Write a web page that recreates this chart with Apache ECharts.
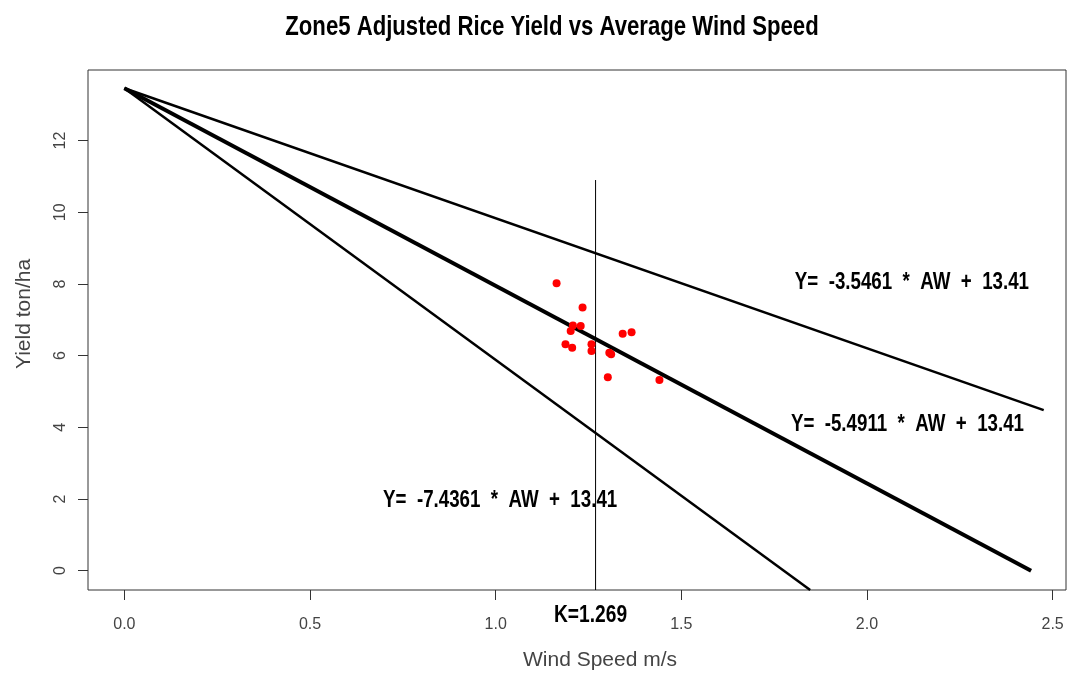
<!DOCTYPE html>
<html>
<head>
<meta charset="utf-8">
<script src="https://cdn.jsdelivr.net/npm/echarts@6/dist/echarts.min.js"></script>
<style>
html,body{margin:0;padding:0;background:#fff;}
#chart{width:1067px;height:673px;}
</style>
</head>
<body>
<div id="chart"></div>
<script>
// ---- data ----
const windSpeed = [1.164, 1.234, 1.208, 1.229, 1.202, 1.188, 1.206, 1.258, 1.258, 1.306, 1.311, 1.342, 1.366, 1.302, 1.441];
const riceYield = [8.02, 7.34, 6.84, 6.83, 6.69, 6.32, 6.22, 6.32, 6.13, 6.08, 6.04, 6.61, 6.65, 5.40, 5.32];
const lineHigh = [[0, 13.46], [2.476, 4.48]];   // Y = -3.5461*AW + 13.41
const lineMid  = [[0, 13.46], [2.442, 0.0]];    // Y = -5.4911*AW + 13.41
const lineLow  = [[0, 13.46], [1.847, -0.54]];  // Y = -7.4361*AW + 13.41
const kValue = 1.269;
const kLineTop = 10.9;
const xTicks = [0, 0.5, 1.0, 1.5, 2.0, 2.5];
const yTicks = [0, 2, 4, 6, 8, 10, 12];
const xRange = [-0.098, 2.536];
const yRange = [-0.54, 13.97];
const eqTexts = ['Y=  -3.5461  *  AW  +  13.41', 'Y=  -5.4911  *  AW  +  13.41', 'Y=  -7.4361  *  AW  +  13.41'];
const eqAnchors = [[2.121, 8.03], [2.109, 4.09], [1.012, 1.97]];
const titleText = 'Zone5 Adjusted Rice Yield vs Average Wind Speed';
const xTitle = 'Wind Speed m/s';
const yTitle = 'Yield ton/ha';

const sans = '"Liberation Sans", Arial, sans-serif';
const chart = echarts.init(document.getElementById('chart'), null, {renderer: 'canvas'});

const points = windSpeed.map((x, i) => [x, riceYield[i]]);

const option = {
  animation: false,
  backgroundColor: '#fff',
  grid: {left: 88, right: 1, top: 70, bottom: 83, show: true, borderColor: '#333', borderWidth: 1,
    backgroundColor: 'transparent', outerBoundsMode: 'none', containLabel: false},
  xAxis: {
    type: 'value', min: xRange[0], max: xRange[1],
    name: xTitle, nameLocation: 'middle', nameGap: 60,
    nameTextStyle: {fontFamily: sans, fontSize: 21, color: '#444', padding: [0, 0, 0, 46]},
    axisLine: {show: false, onZero: false},
    splitLine: {show: false},
    axisTick: {show: true, inside: false, length: 10, customValues: xTicks, lineStyle: {color: '#333'}},
    axisLabel: {show: true, customValues: xTicks, margin: 27, fontFamily: sans, fontSize: 16, color: '#444',
      formatter: v => v.toFixed(1)}
  },
  yAxis: {
    type: 'value', min: yRange[0], max: yRange[1],
    name: yTitle, nameLocation: 'middle', nameGap: 53, nameRotate: 90,
    nameTextStyle: {fontFamily: sans, fontSize: 21, color: '#444', padding: [0, 0, 0, 32]},
    axisLine: {show: false, onZero: false},
    splitLine: {show: false},
    axisTick: {show: true, inside: false, length: 10, customValues: yTicks, lineStyle: {color: '#333'}},
    axisLabel: {show: true, customValues: yTicks, rotate: 90, margin: 19, fontFamily: sans, fontSize: 16, color: '#444',
      formatter: v => String(v)}
  },
  series: [
    {type: 'line', data: lineHigh, symbol: 'none', lineStyle: {color: '#000', width: 2.5}, z: 2},
    {type: 'line', data: lineMid, symbol: 'none', lineStyle: {color: '#000', width: 4}, z: 2},
    {type: 'line', data: lineLow, symbol: 'none', lineStyle: {color: '#000', width: 2.5}, z: 2},
    {type: 'line', data: [[kValue, yRange[0]], [kValue, kLineTop]], symbol: 'none', lineStyle: {color: '#000', width: 1}, z: 3},
    {type: 'scatter', data: points, symbol: 'circle', symbolSize: 8, itemStyle: {color: '#ff0000', opacity: 1}, z: 4}
  ]
};
chart.setOption(option);

function boldText(text, x, y, size, sx) {
  return {
    type: 'text', x: x, y: y, scaleX: sx, scaleY: 1, z: 10,
    style: {text: text, fontFamily: sans, fontWeight: 'bold', fontSize: size, fill: '#000',
      textAlign: 'center', textVerticalAlign: 'middle'}
  };
}
const graphics = [boldText(titleText, 552, 28, 27, 0.82)];
eqTexts.forEach((t, i) => {
  const p = chart.convertToPixel({gridIndex: 0}, eqAnchors[i]);
  graphics.push(boldText(t, p[0], p[1], 24, 0.78));
});
const kPix = chart.convertToPixel({gridIndex: 0}, [kValue, yRange[0]]);
graphics.push(boldText('K=' + kValue.toFixed(3), kPix[0] - 5, kPix[1] + 25, 24, 0.8));
chart.setOption({graphic: graphics});
</script>
</body>
</html>
